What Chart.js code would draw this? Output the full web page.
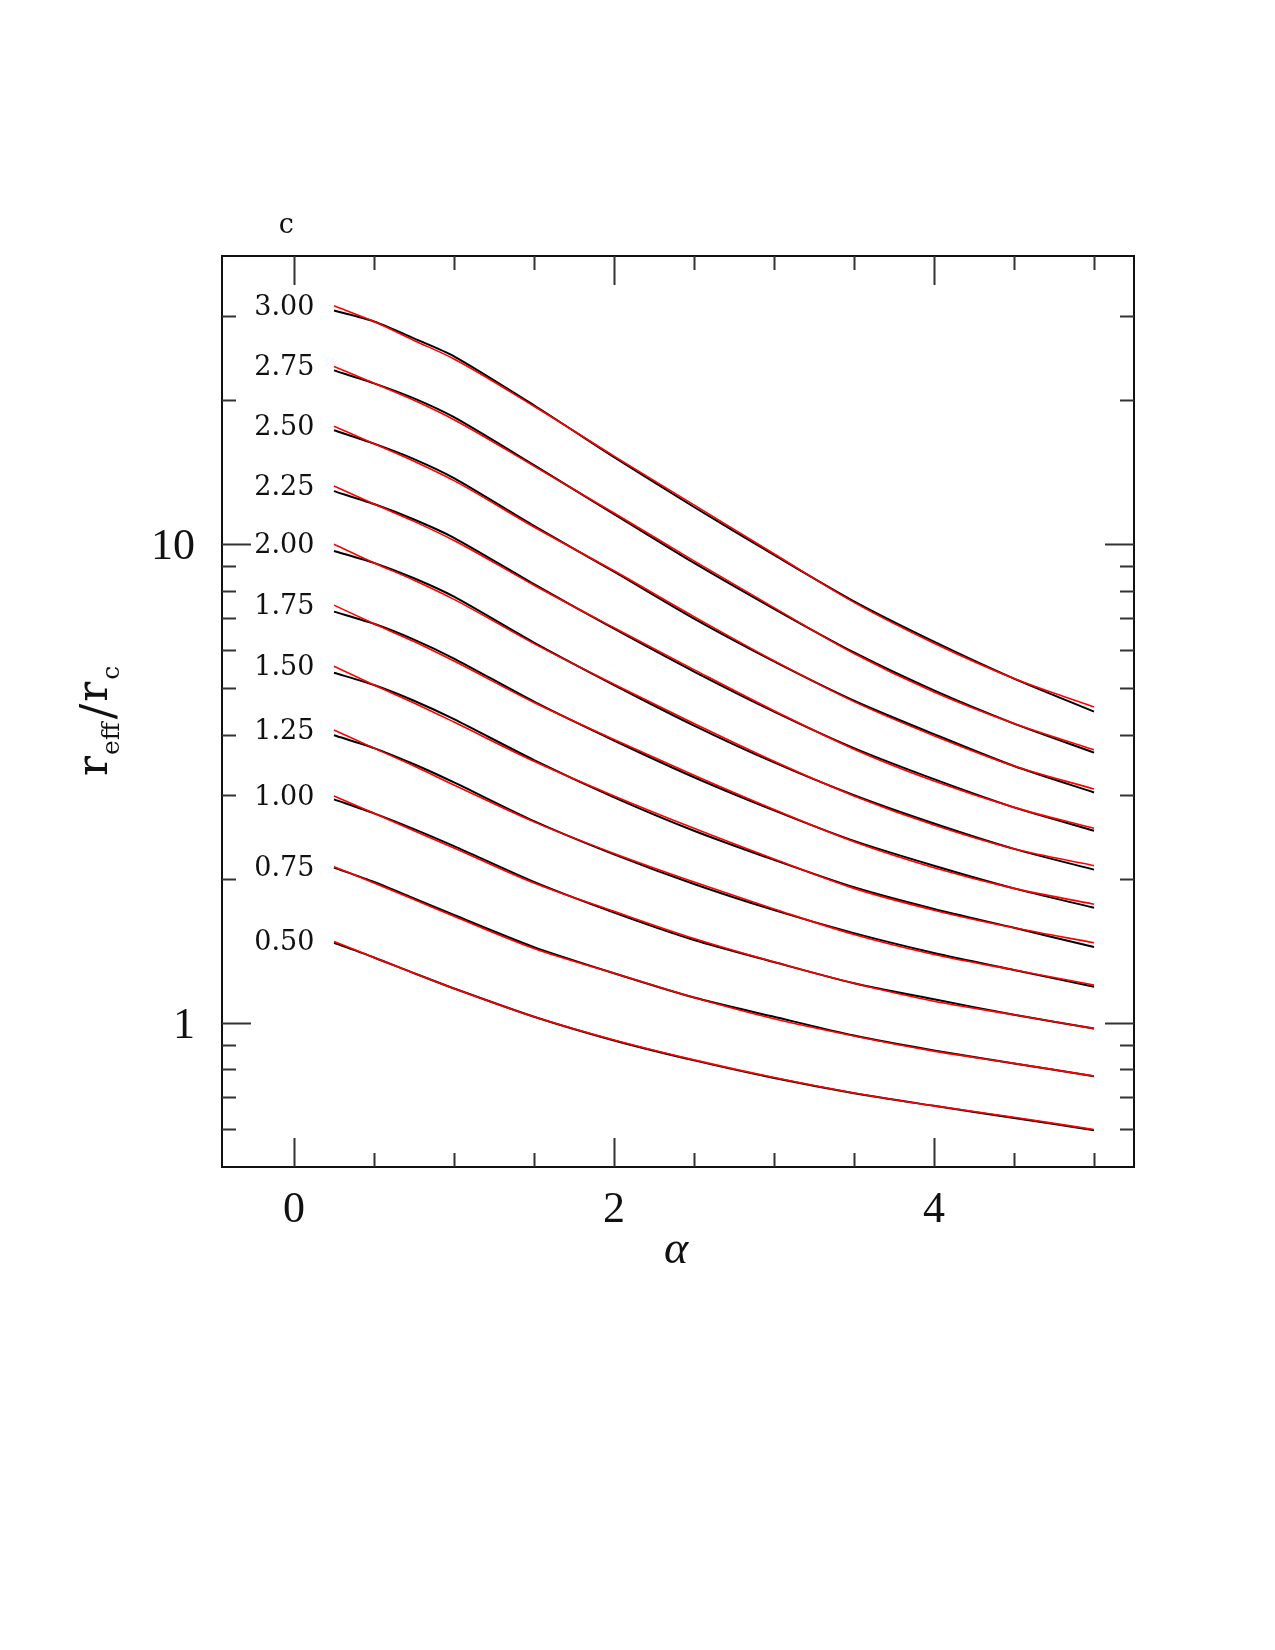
<!DOCTYPE html>
<html>
<head>
<meta charset="utf-8">
<title>r_eff / r_c vs alpha</title>
<script src="https://cdn.jsdelivr.net/npm/chart.js@4.4.1/dist/chart.umd.min.js"></script>
<style>
    html, body { margin: 0; padding: 0; background: #fff; }
    canvas { display: block; }
</style>
</head>
<body>
<canvas id="chart" width="1275" height="1650"></canvas>
<script>
// alpha values where each curve was read
const alpha = [0.25, 0.5, 0.75, 1, 1.5, 2, 2.5, 3, 3.5, 4, 4.5, 5];

const cLabels = ['3.00', '2.75', '2.50', '2.25', '2.00', '1.75', '1.50', '1.25', '1.00', '0.75', '0.50'];

// black curves (computed r_eff / r_c)
const num300 = [30.77, 29.19, 26.91, 24.69, 19.51, 15.20, 11.96, 9.50, 7.60, 6.26, 5.24, 4.47];
const num275 = [23.07, 21.68, 20.17, 18.42, 14.63, 11.56, 9.14, 7.33, 5.94, 4.95, 4.22, 3.67];
const num250 = [17.30, 16.22, 15.06, 13.74, 10.92, 8.76, 6.99, 5.69, 4.71, 4.01, 3.44, 3.03];
const num225 = [12.91, 12.13, 11.26, 10.31, 8.25, 6.66, 5.42, 4.47, 3.75, 3.23, 2.82, 2.52];
const num200 = [9.68, 9.14, 8.49, 7.77, 6.23, 5.08, 4.18, 3.50, 2.99, 2.61, 2.31, 2.09];
const num175 = [7.23, 6.82, 6.32, 5.77, 4.69, 3.89, 3.26, 2.78, 2.40, 2.13, 1.91, 1.74];
const num150 = [5.39, 5.08, 4.71, 4.31, 3.54, 2.96, 2.52, 2.19, 1.92, 1.73, 1.58, 1.44];
const num125 = [3.99, 3.75, 3.47, 3.18, 2.64, 2.25, 1.95, 1.72, 1.54, 1.40, 1.29, 1.19];
const num100 = [2.93, 2.74, 2.54, 2.34, 1.97, 1.70, 1.49, 1.34, 1.21, 1.12, 1.04, 0.973];
const num075 = [2.11, 1.97, 1.82, 1.68, 1.44, 1.27, 1.13, 1.03, 0.941, 0.876, 0.823, 0.774];
const num050 = [1.47, 1.37, 1.27, 1.18, 1.03, 0.919, 0.835, 0.767, 0.713, 0.671, 0.633, 0.597];

// red curves (fit)
const fit300 = [31.47, 29.19, 26.65, 24.38, 19.42, 15.28, 12.08, 9.55, 7.56, 6.21, 5.24, 4.57];
const fit275 = [23.52, 21.68, 19.98, 18.20, 14.56, 11.62, 9.23, 7.37, 5.91, 4.91, 4.22, 3.72];
const fit250 = [17.64, 16.22, 14.91, 13.58, 10.86, 8.80, 7.06, 5.71, 4.69, 3.98, 3.44, 3.08];
const fit225 = [13.23, 12.13, 11.16, 10.18, 8.21, 6.69, 5.47, 4.49, 3.73, 3.20, 2.82, 2.55];
const fit200 = [10.0, 9.14, 8.41, 7.67, 6.20, 5.10, 4.22, 3.52, 2.98, 2.59, 2.31, 2.13];
const fit175 = [7.46, 6.82, 6.26, 5.70, 4.67, 3.91, 3.29, 2.79, 2.39, 2.11, 1.91, 1.77];
const fit150 = [5.56, 5.08, 4.66, 4.25, 3.52, 2.98, 2.55, 2.20, 1.91, 1.72, 1.58, 1.47];
const fit125 = [4.09, 3.75, 3.44, 3.14, 2.63, 2.26, 1.97, 1.73, 1.53, 1.39, 1.29, 1.20];
const fit100 = [2.98, 2.74, 2.52, 2.32, 1.96, 1.71, 1.50, 1.34, 1.21, 1.11, 1.04, 0.973];
const fit075 = [2.12, 1.96, 1.81, 1.67, 1.43, 1.27, 1.13, 1.02, 0.939, 0.873, 0.823, 0.774];
const fit050 = [1.48, 1.37, 1.27, 1.18, 1.03, 0.921, 0.837, 0.769, 0.714, 0.671, 0.635, 0.599];

// ticks
const xTicks = [0, 0.5, 1, 1.5, 2, 2.5, 3, 3.5, 4, 4.5, 5];
const xTickLabels = [0, 2, 4];
const yTicks = [0.6, 0.7, 0.8, 0.9, 1, 2, 3, 4, 5, 6, 7, 8, 9, 10, 20, 30];
const yTickLabels = [1, 10];

const numCurves = [num300, num275, num250, num225, num200, num175, num150, num125, num100, num075, num050];
const fitCurves = [fit300, fit275, fit250, fit225, fit200, fit175, fit150, fit125, fit100, fit075, fit050];

const toPoints = (values) => values.map((v, i) => ({ x: alpha[i], y: v }));

const datasets = [];
fitCurves.forEach((values, i) => {
    datasets.push({
        label: 'fit c=' + cLabels[i],
        data: toPoints(values),
        borderColor: '#ff0000',
        borderWidth: 1.6,
        pointRadius: 0,
        tension: 0.4,
        cubicInterpolationMode: 'monotone',
        order: 0
    });
});
numCurves.forEach((values, i) => {
    datasets.push({
        label: 'c=' + cLabels[i],
        data: toPoints(values),
        borderColor: '#000000',
        borderWidth: 2,
        pointRadius: 0,
        tension: 0.25,
        order: 1
    });
});

const serif = '"Liberation Serif", "DejaVu Serif", serif';

const framePlugin = {
    id: 'frame',
    afterDatasetsDraw(chart) {
        const { ctx, chartArea: a, scales: { x, y } } = chart;
        ctx.save();
        ctx.strokeStyle = '#111';
        ctx.lineWidth = 2;
        ctx.strokeRect(a.left, a.top, a.right - a.left, a.bottom - a.top);

        ctx.strokeStyle = '#333';
        ctx.beginPath();
        xTicks.forEach(v => {
            const px = Math.round(x.getPixelForValue(v)) + 0.5;
            const len = xTickLabels.includes(v) ? 29 : 14;
            ctx.moveTo(px, a.bottom); ctx.lineTo(px, a.bottom - len);
            ctx.moveTo(px, a.top); ctx.lineTo(px, a.top + len);
        });
        yTicks.forEach(v => {
            const py = Math.round(y.getPixelForValue(v)) + 0.5;
            const len = yTickLabels.includes(v) ? 29 : 14;
            ctx.moveTo(a.left, py); ctx.lineTo(a.left + len, py);
            ctx.moveTo(a.right, py); ctx.lineTo(a.right - len, py);
        });
        ctx.stroke();

        // tick labels
        ctx.fillStyle = '#111';
        ctx.font = '44px ' + serif;
        ctx.textAlign = 'center';
        ctx.textBaseline = 'alphabetic';
        xTickLabels.forEach(v => {
            ctx.fillText(String(v), x.getPixelForValue(v), a.bottom + 55);
        });
        ctx.textAlign = 'right';
        yTickLabels.forEach(v => {
            ctx.fillText(String(v), a.left - 27, y.getPixelForValue(v) + 15);
        });

        // curve labels, sitting just left of where each curve starts
        ctx.font = '27px "DejaVu Serif", serif';
        ctx.textAlign = 'center';
        ctx.textBaseline = 'middle';
        const labelX = x.getPixelForValue(-0.06);
        fitCurves.forEach((values, i) => {
            ctx.fillText(cLabels[i], labelX, y.getPixelForValue(values[0]) + 2);
        });
        ctx.fillText('c', labelX + 2, a.top - 30);

        // x axis title
        ctx.font = 'italic 46px ' + serif;
        ctx.textBaseline = 'alphabetic';
        ctx.fillText('\u03b1', 676, a.bottom + 96);

        // y axis title, rotated: r_eff / r_c
        ctx.translate(107, 776);
        ctx.rotate(-Math.PI / 2);
        ctx.textAlign = 'left';
        let cx = 0;
        const big = '42px "DejaVu Serif", serif';
        const small = '25px "DejaVu Serif", serif';
        ctx.font = big;
        ctx.fillText('r', cx, 0);
        cx += ctx.measureText('r').width + 1;
        ctx.font = small;
        ctx.fillText('eff', cx, 12);
        cx += ctx.measureText('eff').width + 3;
        ctx.font = '46px "DejaVu Serif", serif';
        ctx.fillText('/', cx, 6);
        cx += ctx.measureText('/').width + 2;
        ctx.font = big;
        ctx.fillText('r', cx, 0);
        cx += ctx.measureText('r').width + 2;
        ctx.font = small;
        ctx.fillText('c', cx, 12);
        ctx.restore();
    }
};

const chart = new Chart(document.getElementById('chart'), {
    type: 'line',
    data: { datasets: datasets },
    options: {
        responsive: false,
        animation: false,
        layout: {
            padding: { left: 222, top: 256, right: 141, bottom: 483 }
        },
        plugins: {
            legend: { display: false },
            tooltip: { enabled: false }
        },
        scales: {
            x: {
                type: 'linear',
                display: false,
                min: -0.45,
                max: 5.25
            },
            y: {
                type: 'logarithmic',
                display: false,
                min: 0.5,
                max: 40
            }
        }
    },
    plugins: [framePlugin]
});
</script>
</body>
</html>
